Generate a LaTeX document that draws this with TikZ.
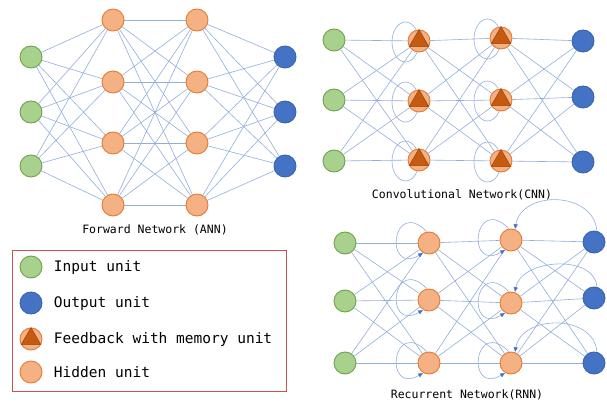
\documentclass[tikz,border=0pt]{standalone}
\usepackage{fontspec}
\setmonofont{DejaVu Sans Mono}
\usetikzlibrary{positioning,backgrounds,arrows.meta}

\definecolor{ingreen}{HTML}{A9D18E}
\definecolor{ingreenline}{HTML}{6FA24A}
\definecolor{outblue}{HTML}{4472C4}
\definecolor{outblueline}{HTML}{3A63AD}
\definecolor{hidorange}{HTML}{F4B183}
\definecolor{hidorangeline}{HTML}{E57B33}
\definecolor{memfill}{HTML}{C55A11}
\definecolor{memline}{HTML}{9A4510}
\definecolor{wireblue}{HTML}{92AEDD}
\definecolor{legred}{HTML}{C65252}

\tikzset{
  unit/.style={circle, minimum size=22pt, inner sep=0pt, line width=0.9pt},
  inunit/.style={unit, fill=ingreen, draw=ingreenline},
  outunit/.style={unit, fill=outblue, draw=outblueline},
  hidunit/.style={unit, fill=hidorange, draw=hidorangeline},
  memtri/.style={fill=memfill, draw=memline, line width=0.5pt, line join=round},
  wire/.style={draw=wireblue, line width=0.6pt},
  back/.style={wire, -{Latex[length=5pt, width=4.5pt, color=outblue]}},
  nettitle/.style={font=\fontsize{11.5}{13}\selectfont\ttfamily},
  legtext/.style={font=\fontsize{14.5}{16}\selectfont\ttfamily, anchor=west},
  legbox/.style={draw=legred, line width=1pt}
}

\begin{document}
\begin{tikzpicture}[x=1pt, y=1pt]
  \useasboundingbox (0,0) rectangle (607,402);

  % forward network
  \foreach \y [count=\i] in {345,290,236} {
    \node[inunit] (ai\i) at (31,\y) {};
    \node[outunit] (ao\i) at (285,\y) {};
  }
  \foreach \y [count=\i] in {382,320,259,197} {
    \node[hidunit] (ah\i) at (113,\y) {};
    \node[hidunit] (ag\i) at (197,\y) {};
  }
  \node[nettitle] (anntitle) at (155,172) {Forward Network (ANN)};

  % convolutional network
  \foreach \y [count=\i] in {362,302,241} \node[inunit] (ci\i) at (334,\y) {};
  \foreach \y [count=\i] in {361,301,242} \node[hidunit] (ch\i) at (419,\y) {};
  \foreach \y [count=\i] in {364,302,241} \node[hidunit] (cg\i) at (501,\y) {};
  \foreach \y [count=\i] in {361,305,240} \node[outunit] (co\i) at (583,\y) {};
  \foreach \n in {ch1,ch2,ch3,cg1,cg2,cg3}
    \draw[memtri] (\n.90) -- (\n.210) -- (\n.330) -- cycle;
  \node[nettitle] (cnntitle) at (462,207) {Convolutional Network(CNN)};

  % recurrent network
  \foreach \y [count=\i] in {159,101,39} \node[inunit] (ri\i) at (345,\y) {};
  \foreach \y [count=\i] in {159,102,39} \node[hidunit] (rh\i) at (429,\y) {};
  \foreach \y [count=\i] in {162,99,39} \node[hidunit] (rg\i) at (511,\y) {};
  \foreach \y [count=\i] in {160,104,39} \node[outunit] (ro\i) at (594,\y) {};
  \node[nettitle] (rnntitle) at (467,7) {Recurrent Network(RNN)};

  \begin{scope}[on background layer]
    % ANN weights
    \foreach \i in {1,2,3} \foreach \j in {1,...,4} {
      \draw[wire] (ai\i) -- (ah\j);
      \draw[wire] (ag\j) -- (ao\i);
    }
    \foreach \i in {1,...,4} \foreach \j in {1,...,4}
      \draw[wire] (ah\i) -- (ag\j);
    % CNN and RNN weights
    \foreach \i in {1,2,3} \foreach \j in {1,2,3} {
      \draw[wire] (ci\i) -- (ch\j);
      \draw[wire] (ch\i) -- (cg\j);
      \draw[wire] (cg\i) -- (co\j);
      \draw[wire] (ri\i) -- (rh\j);
      \draw[wire] (rh\i) -- (rg\j);
      \draw[wire] (rg\i) -- (ro\j);
    }
    % memory loops
    \foreach \n in {ch1,ch2,ch3,cg1,cg2,cg3}
      \draw[wire] ([shift={(-13.5pt,-1pt)}]\n.center) ellipse (13.5pt and 20pt);
  \end{scope}

  % recurrent loops
  \foreach \n in {rh1,rh2,rh3,rg1,rg2,rg3}
    \draw[back] (\n.100) to[out=135, in=210, out distance=50pt, in distance=46pt] (\n.-120);
  \draw[back] (ro1.75) to[out=95, in=80, looseness=1.25] (rg1.70);
  \draw[back] (ro2.75) to[out=95, in=80, looseness=1.05] (rg2.70);
  \draw[back] (ro3.75) to[out=95, in=80, looseness=1.2] (rg3.70);

  % legend
  \draw[legbox] (12,11) rectangle (286,152);
  \node[inunit] (lg1) at (31,135) {};
  \node[outunit] (lg2) at (31,99) {};
  \node[hidunit] (lg3) at (31,63) {};
  \draw[memtri] (lg3.90) -- (lg3.210) -- (lg3.330) -- cycle;
  \node[hidunit] (lg4) at (31,30) {};
  \node[legtext, right=8pt of lg1] {Input unit};
  \node[legtext, right=8pt of lg2] {Output unit};
  \node[legtext, right=8pt of lg3] {Feedback with memory unit};
  \node[legtext, right=8pt of lg4] {Hidden unit};
\end{tikzpicture}
\end{document}
